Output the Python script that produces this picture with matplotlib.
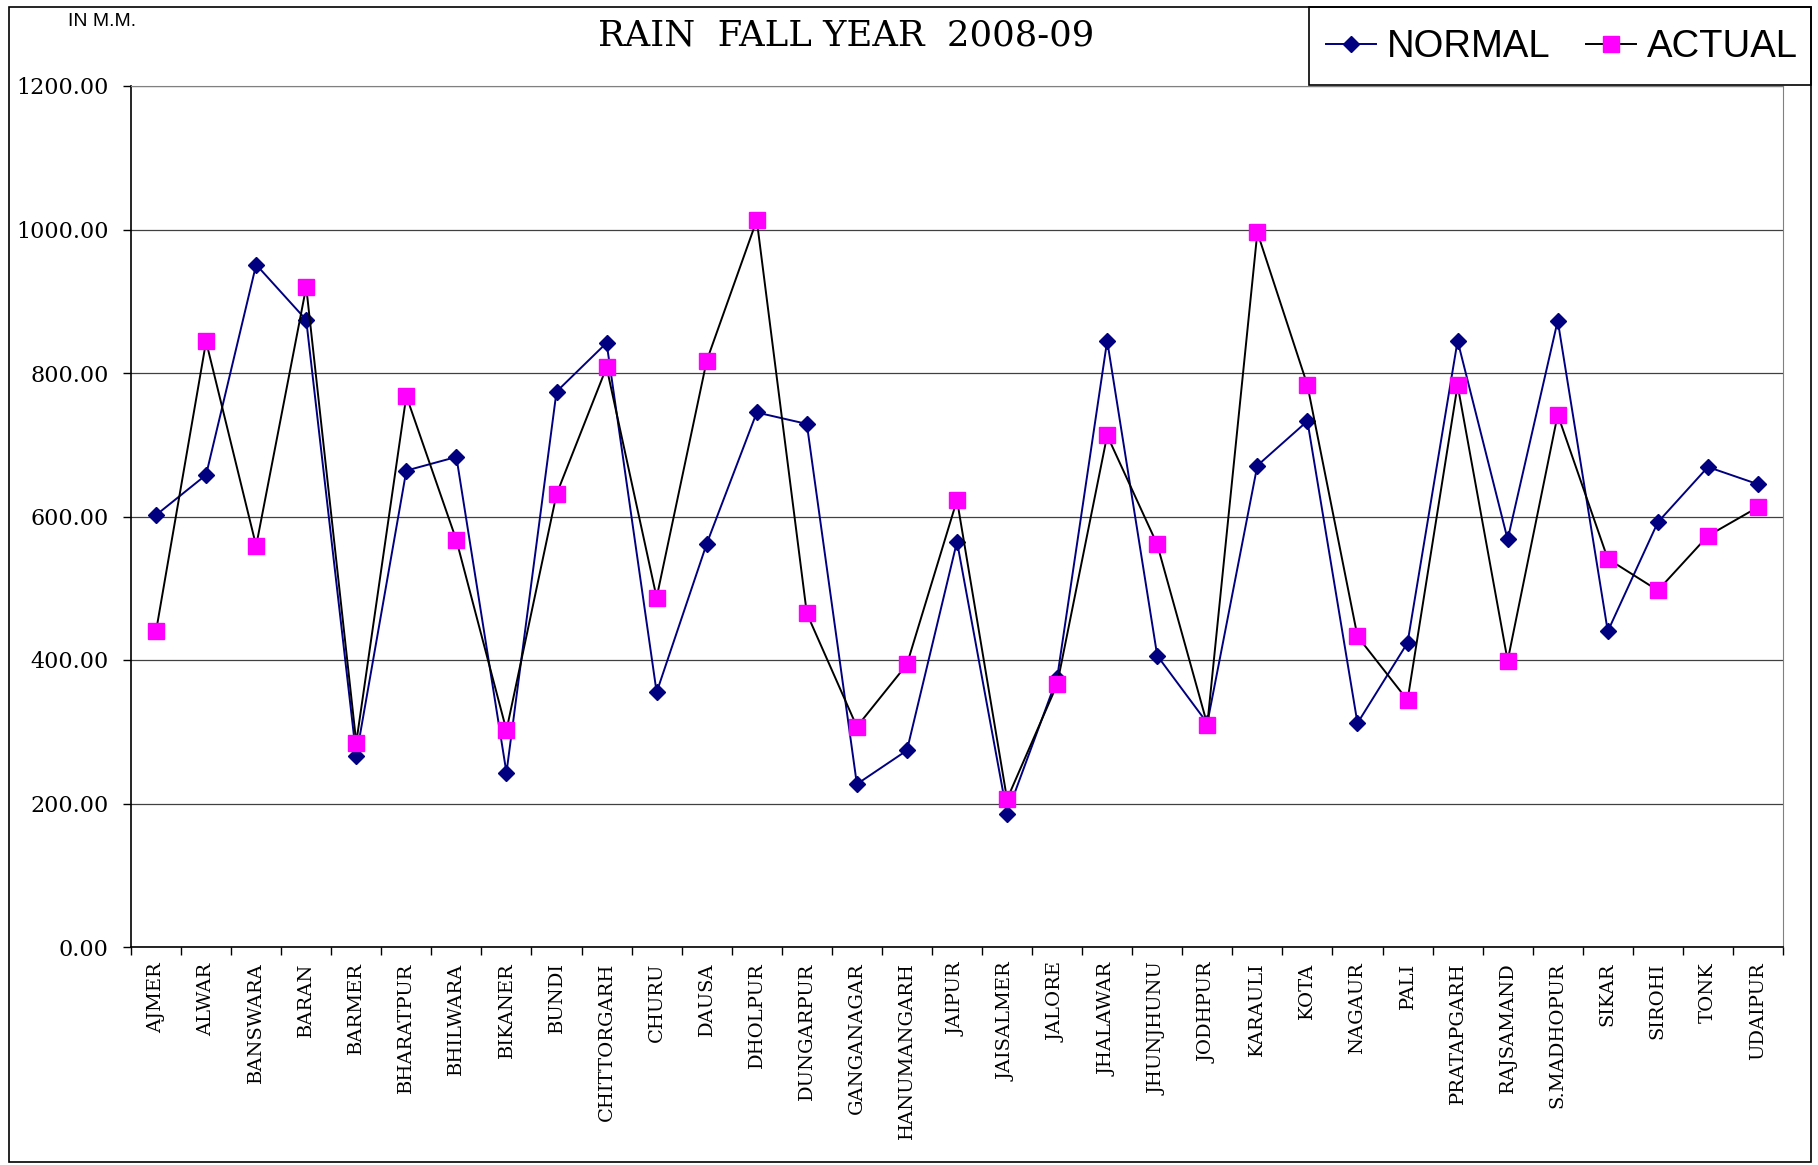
import matplotlib
matplotlib.use("Agg")
import matplotlib.pyplot as plt
from matplotlib.patches import Rectangle
from matplotlib.ticker import FixedLocator, FuncFormatter

# rainfall in mm, Rajasthan districts
districts = ["AJMER", "ALWAR", "BANSWARA", "BARAN", "BARMER", "BHARATPUR",
             "BHILWARA", "BIKANER", "BUNDI", "CHITTORGARH", "CHURU", "DAUSA",
             "DHOLPUR", "DUNGARPUR", "GANGANAGAR", "HANUMANGARH", "JAIPUR",
             "JAISALMER", "JALORE", "JHALAWAR", "JHUNJHUNU", "JODHPUR",
             "KARAULI", "KOTA", "NAGAUR", "PALI", "PRATAPGARH", "RAJSAMAND",
             "S.MADHOPUR", "SIKAR", "SIROHI", "TONK", "UDAIPUR"]
normal = [602, 658, 951, 874, 266, 664, 683, 243, 774, 842, 355, 562,
          745, 729, 227, 274, 565, 186, 375, 845, 406, 312,
          671, 733, 312, 424, 845, 568, 873, 440, 592, 669, 645]
actual = [440, 844, 559, 920, 285, 768, 567, 302, 631, 808, 487, 817,
          1013, 465, 307, 394, 623, 206, 366, 713, 561, 310,
          996, 783, 433, 344, 783, 399, 742, 541, 497, 573, 613]

W, H = 1818, 1165
fig = plt.figure(figsize=(W / 100, H / 100), dpi=100)

# axes box in pixels: left 131, right 1783, top 86, bottom 947
ax = fig.add_axes([131 / W, 1 - 947 / H, (1783 - 131) / W, (947 - 86) / H])

x = list(range(len(districts)))
ax.plot(x, normal, color="#000080", lw=1.4, marker="D", ms=8.5,
        mfc="#000080", mec="#000080", label="NORMAL", zorder=3)
ax.plot(x, actual, color="black", lw=1.4, marker="s", ms=11,
        mfc="#FF00FF", mec="#FF00FF", label="ACTUAL", zorder=4)

ax.set_xlim(-0.5, len(districts) - 0.5)
ax.set_ylim(0, 1200)
ax.set_yticks([0, 200, 400, 600, 800, 1000, 1200])
ax.yaxis.set_major_formatter(FuncFormatter(lambda v, p: f"{v:.2f}"))
ax.grid(axis="y", color="#404040", lw=0.9)
ax.set_axisbelow(True)

ax.set_xticks(x)
ax.set_xticklabels(districts, rotation=90, family="DejaVu Serif", fontsize=14, va="top")
ax.xaxis.set_minor_locator(FixedLocator([i - 0.5 for i in range(len(districts) + 1)]))
ax.tick_params(axis="x", which="major", length=0, pad=11)
ax.tick_params(axis="x", which="minor", length=6, width=1, direction="out")
ax.tick_params(axis="y", length=6, width=1, direction="out", pad=10)
for lab in ax.get_yticklabels():
    lab.set_family("DejaVu Serif")
    lab.set_fontsize(16)

ax.spines["left"].set_color("black")
ax.spines["bottom"].set_color("black")
ax.spines["left"].set_linewidth(1.2)
ax.spines["bottom"].set_linewidth(1.2)
ax.spines["top"].set_color("#808080")
ax.spines["right"].set_color("#808080")

# outer chart border
fig.patches.append(Rectangle((9 / W, 1 - 1162 / H), (1811 - 9) / W, (1162 - 7) / H,
                             transform=fig.transFigure, fill=False,
                             edgecolor="black", lw=1.2))
# legend box
fig.patches.append(Rectangle((1309 / W, 1 - 85 / H), (1811 - 1309) / W, (85 - 7) / H,
                             transform=fig.transFigure, fill=False,
                             edgecolor="black", lw=1.2))
fig.legend(loc="center", bbox_to_anchor=(1562 / W, 1 - 47 / H), ncol=2,
           frameon=False, prop={"family": "Liberation Sans", "size": 27.5},
           handlelength=1.32, handletextpad=0.29, columnspacing=0.92)

fig.text(846 / W, 1 - 35 / H, "RAIN  FALL YEAR  2008-09", ha="center", va="center",
         family="DejaVu Serif", fontsize=25.5)
fig.text(68 / W, 1 - 21 / H, "IN M.M.", ha="left", va="center",
         family="Liberation Sans", fontsize=14)

fig.savefig("out.png", dpi=100)
